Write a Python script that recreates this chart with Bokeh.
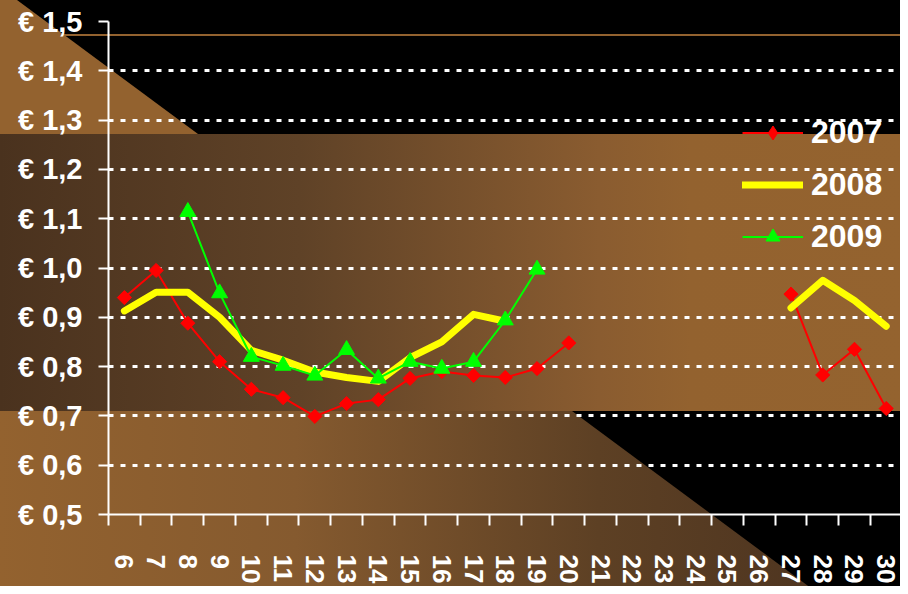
import base64
import numpy as np
from bokeh.plotting import figure
from bokeh.models import Range1d, FixedTicker, Legend, LegendItem, ColumnDataSource
from bokeh.embed import file_html
from bokeh.resources import INLINE

# ---------------- data ----------------
categories = list(range(6, 31))
x_labels = [str(c) for c in categories]
nan = float("nan")
s2007 = [0.94, 0.995, 0.888, 0.81, 0.754, 0.737, 0.699, 0.725, 0.733, 0.776,
         0.79, 0.782, 0.778, 0.796, 0.848, nan, nan, nan, nan, nan, nan,
         0.947, 0.783, 0.835, 0.715]
s2008 = [0.913, 0.951, 0.951, 0.90, 0.833, 0.813, 0.789, 0.778, 0.77, 0.818,
         0.85, 0.906, 0.892, nan, nan, nan, nan, nan, nan, nan, nan,
         0.919, 0.975, 0.934, 0.882]
s2009 = [nan, nan, 1.114, 0.949, 0.82, 0.802, 0.782, 0.834, 0.776, 0.81,
         0.796, 0.81, 0.894, 0.997, nan, nan, nan, nan, nan, nan, nan,
         nan, nan, nan, nan]
series_names = ["2007", "2008", "2009"]
y_ticks = [0.5, 0.6, 0.7, 0.8, 0.9, 1.0, 1.1, 1.2, 1.3, 1.4, 1.5]
y_labels = ["€ 0,5", "€ 0,6", "€ 0,7", "€ 0,8", "€ 0,9", "€ 1,0",
            "€ 1,1", "€ 1,2", "€ 1,3", "€ 1,4", "€ 1,5"]

src = ColumnDataSource(dict(
    x=np.array(categories, dtype=float),
    a=np.array(s2007, dtype=float),
    b=np.array(s2008, dtype=float),
    c=np.array(s2009, dtype=float),
))

FONT = "Liberation Sans"

p = figure(width=900, height=586,
           x_range=Range1d(categories[0] - 0.5, categories[-1] + 0.45),
           y_range=Range1d(y_ticks[0], y_ticks[-1]),
           output_backend="svg", toolbar_location=None,
           min_border_left=108, min_border_right=0,
           min_border_top=21, min_border_bottom=64)
p.background_fill_color = None
p.border_fill_color = None
p.outline_line_color = None

# decorative background (CSS image behind the transparent canvas)
bg_svg = """<svg xmlns='http://www.w3.org/2000/svg' width='908' height='594' viewBox='0 0 908 594'>
<defs>
<linearGradient id='band' gradientUnits='userSpaceOnUse' x1='0' y1='0' x2='908' y2='0'>
<stop offset='0' stop-color='#4a321e'/>
<stop offset='0.33' stop-color='#5f4227'/>
<stop offset='0.66' stop-color='#8a5c30'/>
<stop offset='0.76' stop-color='#93622f'/>
<stop offset='1' stop-color='#94632f'/>
</linearGradient>
<linearGradient id='low' gradientUnits='userSpaceOnUse' x1='0' y1='0' x2='820' y2='0'>
<stop offset='0' stop-color='#93622f'/>
<stop offset='0.36' stop-color='#855a2f'/>
<stop offset='0.73' stop-color='#5d4024'/>
<stop offset='1' stop-color='#4e3520'/>
</linearGradient>
</defs>
<rect width='908' height='594' fill='#000000'/>
<polygon points='0,0 17,0 198,134 0,134' fill='#93622f'/>
<polygon points='0,411 572,411 819,594 0,594' fill='url(#low)'/>
<rect x='0' y='134' width='908' height='277' fill='url(#band)'/>
<rect x='0' y='34' width='908' height='2' fill='#93622f'/>
</svg>"""
b64 = base64.b64encode(bg_svg.encode("utf-8")).decode("ascii")
p.styles = {
    "background-color": "#000000",
    "background-image": f"url('data:image/svg+xml;base64,{b64}')",
    "background-size": "908px 594px",
    "background-position": "0px 0px",
    "background-repeat": "no-repeat",
}

# ---------------- grid ----------------
yticker = FixedTicker(ticks=y_ticks)
p.xgrid.visible = False
p.ygrid.ticker = yticker
p.ygrid.grid_line_color = "white"
p.ygrid.grid_line_width = 3
p.ygrid.grid_line_dash = "5 7"

# ---------------- axes ----------------
p.yaxis.ticker = yticker
p.yaxis.major_label_overrides = {t: l for t, l in zip(y_ticks, y_labels)}
p.yaxis.axis_line_color = "white"
p.yaxis.axis_line_width = 2
p.yaxis.major_tick_line_color = "white"
p.yaxis.major_tick_line_width = 2
p.yaxis.major_tick_out = 10
p.yaxis.major_tick_in = 0
p.yaxis.minor_tick_line_color = None
p.yaxis.major_label_standoff = 16
p.yaxis.major_label_text_font = FONT
p.yaxis.major_label_text_font_style = "bold"
p.yaxis.major_label_text_font_size = "29px"
p.yaxis.major_label_text_color = "white"

p.xaxis.ticker = FixedTicker(ticks=categories,
                             minor_ticks=[c - 0.5 for c in categories] + [categories[-1] + 0.5])
p.xaxis.major_label_overrides = {c: l for c, l in zip(categories, x_labels)}
p.xaxis.axis_line_color = "white"
p.xaxis.axis_line_width = 2
p.xaxis.major_tick_out = 0
p.xaxis.major_tick_in = 0
p.xaxis.major_tick_line_color = None
p.xaxis.minor_tick_out = 11
p.xaxis.minor_tick_in = 0
p.xaxis.minor_tick_line_color = "white"
p.xaxis.minor_tick_line_width = 2
p.xaxis.major_label_orientation = "vertical"
p.xaxis.major_label_standoff = 29
p.xaxis.major_label_text_font = FONT
p.xaxis.major_label_text_font_style = "bold"
p.xaxis.major_label_text_font_size = "26px"
p.xaxis.major_label_text_color = "white"

# ---------------- series ----------------
r07l = p.line("x", "a", source=src, line_color="#ff0000", line_width=2)
r07m = p.scatter("x", "a", source=src, marker="square", angle=np.pi / 4, size=10,
                 fill_color="#ff0000", line_color="#ff0000")
r08l = p.line("x", "b", source=src, line_color="#ffff00", line_width=7,
              line_cap="round", line_join="round")
r09l = p.line("x", "c", source=src, line_color="#00ff00", line_width=2)
r09m = p.scatter("x", "c", source=src, marker="triangle", size=16,
                 fill_color="#00ff00", line_color="#00ff00")
# legend swatch for the 2007 diamonds (legend draws markers unrotated)
r07key = p.scatter("x", "a", source=src, marker="diamond", size=14,
                   fill_color="#ff0000", line_color="#ff0000", visible=False)

legend = Legend(items=[
    LegendItem(label=series_names[0], renderers=[r07l, r07key]),
    LegendItem(label=series_names[1], renderers=[r08l]),
    LegendItem(label=series_names[2], renderers=[r09l, r09m]),
], location=(634, 258), orientation="vertical",
    label_text_font=FONT, label_text_font_style="bold",
    label_text_font_size="32px", label_text_color="white",
    glyph_width=61, glyph_height=35, label_height=40, spacing=12,
    padding=0, margin=0, label_standoff=8,
    background_fill_alpha=0, border_line_color=None)
p.add_layout(legend)

open("out.html", "w").write(file_html(p, INLINE))
